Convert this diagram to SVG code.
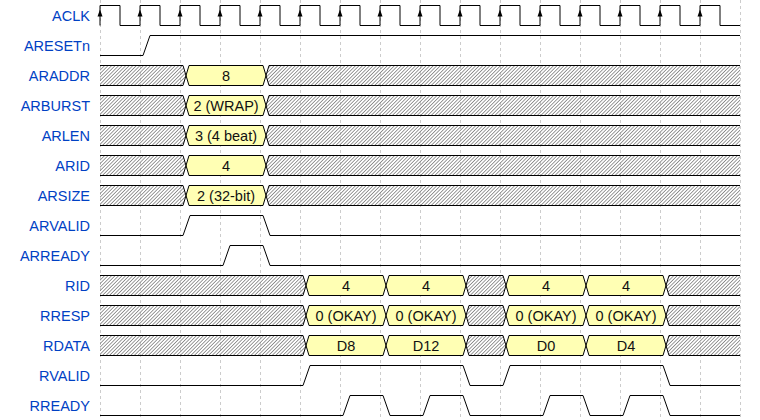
<svg xmlns="http://www.w3.org/2000/svg" xmlns:xlink="http://www.w3.org/1999/xlink" width="760" height="420" viewBox="0 0 760 420">
<style>
.lbl{font-family:"Liberation Sans",Arial,sans-serif;font-size:14.5px;fill:#0041c4;text-anchor:end}
.val{font-family:"Liberation Sans",Arial,sans-serif;font-size:14.5px;fill:#111;text-anchor:middle}
.w{fill:none;stroke:#000;stroke-width:1}
.h{fill:url(#hatch);stroke:none}
.y{fill:#ffffb4;stroke:none}
.g{stroke:#ccc;stroke-width:1;stroke-dasharray:3,3}
.arr{fill:#000}
</style>
<defs>
<pattern id="hatch" patternUnits="userSpaceOnUse" width="2.5" height="10" patternTransform="rotate(45)">
<rect x="0" y="0" width="0.75" height="10" fill="#7a7a7a"/>
</pattern>
<path id="arr" class="arr" d="M0,9.5L-2.5,16.5L2.5,16.5Z"/>
<g id="arRow">
<polygon class="h" points="100,5.5 183,5.5 186,15.5 183,25.5 100,25.5"/>
<polygon class="y" points="186,15.5 189,5.5 263,5.5 266,15.5 263,25.5 189,25.5"/>
<polygon class="h" points="266,15.5 269,5.5 740,5.5 740,25.5 269,25.5"/>
<path class="w" d="M100,5.5H183L189,25.5H263L269,5.5H740M100,25.5H183L189,5.5H263L269,25.5H740"/>
</g>
<g id="rRow">
<polygon class="h" points="100,5.5 303,5.5 306,15.5 303,25.5 100,25.5"/>
<polygon class="y" points="306,15.5 309,5.5 383,5.5 386,15.5 383,25.5 309,25.5"/>
<polygon class="y" points="386,15.5 389,5.5 463,5.5 466,15.5 463,25.5 389,25.5"/>
<polygon class="h" points="466,15.5 469,5.5 503,5.5 506,15.5 503,25.5 469,25.5"/>
<polygon class="y" points="506,15.5 509,5.5 583,5.5 586,15.5 583,25.5 509,25.5"/>
<polygon class="y" points="586,15.5 589,5.5 663,5.5 666,15.5 663,25.5 589,25.5"/>
<polygon class="h" points="666,15.5 669,5.5 740,5.5 740,25.5 669,25.5"/>
<path class="w" d="M100,5.5H303L309,25.5H383L389,5.5H463L469,25.5H503L509,5.5H583L589,25.5H663L669,5.5H740M100,25.5H303L309,5.5H383L389,25.5H463L469,5.5H503L509,25.5H583L589,5.5H663L669,25.5H740"/>
</g>
</defs>
<rect width="760" height="420" fill="#fff"/>
<g id="grid">
<path class="g" d="M100.5,0V420M140.5,0V420M180.5,0V420M220.5,0V420M260.5,0V420M300.5,0V420M340.5,0V420M380.5,0V420M420.5,0V420M460.5,0V420M500.5,0V420M540.5,0V420M580.5,0V420M620.5,0V420M660.5,0V420M700.5,0V420M740.5,0V420"/>
</g>
<g id="connectors"></g>
<g id="ACLK">
<text class="lbl" x="90" y="21">ACLK</text>
<path class="w" d="M100,25.5V5.5H120V25.5H140V5.5H160V25.5H180V5.5H200V25.5H220V5.5H240V25.5H260V5.5H280V25.5H300V5.5H320V25.5H340V5.5H360V25.5H380V5.5H400V25.5H420V5.5H440V25.5H460V5.5H480V25.5H500V5.5H520V25.5H540V5.5H560V25.5H580V5.5H600V25.5H620V5.5H640V25.5H660V5.5H680V25.5H700V5.5H720V25.5H740"/>
<use xlink:href="#arr" x="100"/><use xlink:href="#arr" x="140"/><use xlink:href="#arr" x="180"/><use xlink:href="#arr" x="220"/>
<use xlink:href="#arr" x="260"/><use xlink:href="#arr" x="300"/><use xlink:href="#arr" x="340"/><use xlink:href="#arr" x="380"/>
<use xlink:href="#arr" x="420"/><use xlink:href="#arr" x="460"/><use xlink:href="#arr" x="500"/><use xlink:href="#arr" x="540"/>
<use xlink:href="#arr" x="580"/><use xlink:href="#arr" x="620"/><use xlink:href="#arr" x="660"/><use xlink:href="#arr" x="700"/>
</g>
<g id="ARESETn">
<text class="lbl" x="90" y="51">ARESETn</text>
<path class="w" d="M100,55.5H143L150,35.5H740"/>
</g>
<g id="ARADDR">
<text class="lbl" x="90" y="81">ARADDR</text>
<use xlink:href="#arRow" y="60"/>
<text class="val" x="226" y="80.5">8</text>
</g>
<g id="ARBURST">
<text class="lbl" x="90" y="111">ARBURST</text>
<use xlink:href="#arRow" y="90"/>
<text class="val" x="226" y="110.5">2 (WRAP)</text>
</g>
<g id="ARLEN">
<text class="lbl" x="90" y="141">ARLEN</text>
<use xlink:href="#arRow" y="120"/>
<text class="val" x="226" y="140.5">3 (4 beat)</text>
</g>
<g id="ARID">
<text class="lbl" x="90" y="171">ARID</text>
<use xlink:href="#arRow" y="150"/>
<text class="val" x="226" y="170.5">4</text>
</g>
<g id="ARSIZE">
<text class="lbl" x="90" y="201">ARSIZE</text>
<use xlink:href="#arRow" y="180"/>
<text class="val" x="226" y="200.5">2 (32-bit)</text>
</g>
<g id="ARVALID">
<text class="lbl" x="90" y="231">ARVALID</text>
<path class="w" d="M100,235.5H183L190,215.5H263L270,235.5H740"/>
</g>
<g id="ARREADY">
<text class="lbl" x="90" y="261">ARREADY</text>
<path class="w" d="M100,265.5H223L230,245.5H263L270,265.5H740"/>
</g>
<g id="RID">
<text class="lbl" x="90" y="291">RID</text>
<use xlink:href="#rRow" y="270"/>
<text class="val" x="346" y="290.5">4</text>
<text class="val" x="426" y="290.5">4</text>
<text class="val" x="546" y="290.5">4</text>
<text class="val" x="626" y="290.5">4</text>
</g>
<g id="RRESP">
<text class="lbl" x="90" y="321">RRESP</text>
<use xlink:href="#rRow" y="300"/>
<text class="val" x="346" y="320.5">0 (OKAY)</text>
<text class="val" x="426" y="320.5">0 (OKAY)</text>
<text class="val" x="546" y="320.5">0 (OKAY)</text>
<text class="val" x="626" y="320.5">0 (OKAY)</text>
</g>
<g id="RDATA">
<text class="lbl" x="90" y="351">RDATA</text>
<use xlink:href="#rRow" y="330"/>
<text class="val" x="346" y="350.5">D8</text>
<text class="val" x="426" y="350.5">D12</text>
<text class="val" x="546" y="350.5">D0</text>
<text class="val" x="626" y="350.5">D4</text>
</g>
<g id="RVALID">
<text class="lbl" x="90" y="381">RVALID</text>
<path class="w" d="M100,385.5H303L310,365.5H463L470,385.5H503L510,365.5H663L670,385.5H740"/>
</g>
<g id="RREADY">
<text class="lbl" x="90" y="411">RREADY</text>
<path class="w" d="M100,415.5H343L350,395.5H383L390,415.5H423L430,395.5H463L470,415.5H543L550,395.5H583L590,415.5H623L630,395.5H663L670,415.5H740"/>
</g>
</svg>
